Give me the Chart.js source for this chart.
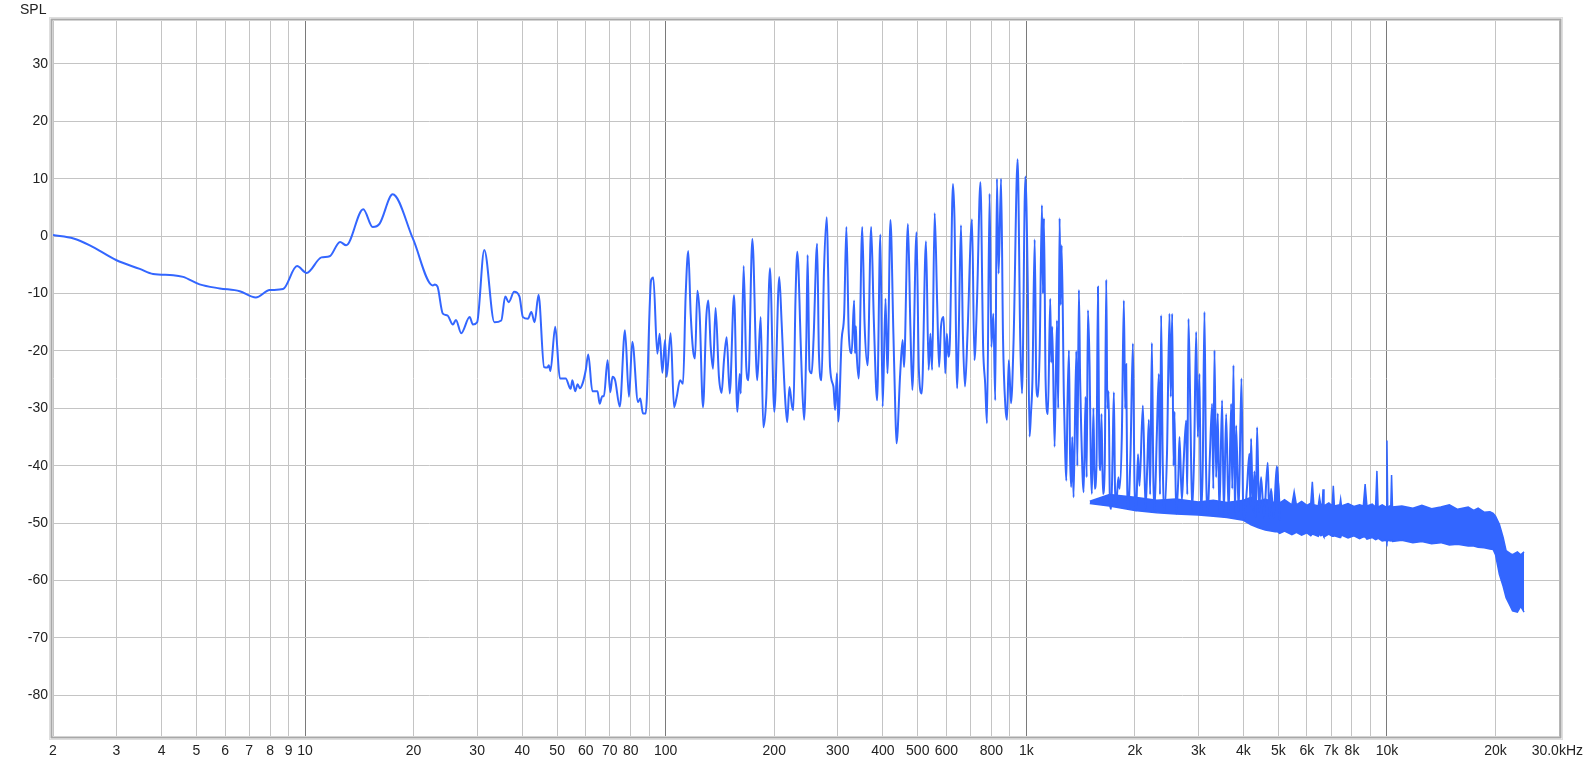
<!DOCTYPE html>
<html>
<head>
<meta charset="utf-8">
<script src="https://cdn.jsdelivr.net/npm/chart.js@4.4.0/dist/chart.umd.min.js"></script>
<style>
  html, body { margin: 0; padding: 0; background: #fff; }
  #wrap { width: 1585px; height: 764px; position: relative; }
</style>
</head>
<body>
<div id="wrap"><canvas id="spl-chart" width="1585" height="764"></canvas></div>
<script>
/* ---- axis ticks ---- */
var X_TICKS  = [2, 3, 4, 5, 6, 7, 8, 9, 10, 20, 30, 40, 50, 60, 70, 80, 90, 100,
                200, 300, 400, 500, 600, 700, 800, 900, 1000,
                2000, 3000, 4000, 5000, 6000, 7000, 8000, 9000, 10000, 20000, 30000];
var X_LABELS = ['2', '3', '4', '5', '6', '7', '8', '9', '10', '20', '30', '40', '50', '60', '70', '80', '', '100',
                '200', '300', '400', '500', '600', '', '800', '', '1k',
                '2k', '3k', '4k', '5k', '6k', '7k', '8k', '', '10k', '20k', '30.0kHz'];
var Y_TICKS  = [-80, -70, -60, -50, -40, -30, -20, -10, 0, 10, 20, 30];

/* ---- measured trace, Hz / dB ---- */
var TRACE_FREQ = [
  2.0, 2.28, 2.53, 3.0, 3.48, 3.79, 4.31, 4.59, 5.1, 5.8, 6.59, 7.3, 7.98, 8.69, 9.5, 10.1,
  11.1, 11.7, 12.5, 13.0, 14.5, 15.4, 16.1, 17.5, 19.9, 22.6, 22.9, 23.3, 24.1, 24.8, 25.7, 26.2,
  27.1, 28.6, 29.2, 30.0, 31.4, 33.5, 35.0, 35.9, 36.7, 38.0, 39.3, 40.2, 41.5, 42.4, 43.3, 44.4,
  46.0, 47.0, 47.4, 47.9, 49.4, 50.9, 52.8, 54.5, 55.1, 56.1, 57.0, 57.8, 58.8, 60.0, 61.0, 62.6,
  64.7, 65.6, 66.7, 67.4, 69.0, 70.2, 71.2, 72.4, 74.6, 77.1, 79.1, 80.8, 83.8, 85.0, 86.5, 88.0,
  91.1, 92.4, 94.8, 96.2, 97.9, 99.6, 100.6, 103.2, 105.5, 107.3, 109.6, 111.7, 113.6, 115.5, 117.3, 119.1,
  120.6, 122.4, 124.2, 126.9, 129.6, 131.3, 133.3, 135.3, 137.5, 140.5, 142.9, 145.1, 147.6, 150.5, 154.7, 158.0,
  160.4, 161.5, 164.5, 167.3, 169.5, 173.9, 179.4, 183.4, 186.5, 190.1, 194.6, 200.1, 206.5, 209.6, 214.0, 217.2,
  220.4, 224.1, 226.0, 229.0, 231.7, 237, 238.5, 242, 245.5, 247.5, 250.5, 254, 257, 263, 266, 270.5,
  274.8, 279.7, 282, 285.6, 291.8, 295, 298.4, 301, 307.5, 312.6, 317, 321.9, 327.8, 333, 335, 336.8,
  338.3, 343, 350.8, 356, 363, 371.3, 377.7, 385.7, 393.8, 399.6, 407, 412, 420, 428, 433, 436.6,
  447, 454, 458, 469.6, 477, 483, 496, 503.6, 513, 527, 536, 542, 548, 557, 566, 573,
  580, 590, 596, 602, 608, 614, 626, 632, 643, 649, 659, 667, 676, 687, 707, 718,
  730, 746, 759, 769, 778, 791, 800, 810, 820, 829, 838, 851, 862, 875, 884, 894,
  907, 922, 946, 962, 973, 994, 1009, 1021, 1030, 1040, 1055, 1066, 1077, 1089, 1105, 1112,
  1119, 1131, 1148, 1165, 1172, 1180, 1198, 1216, 1226, 1237, 1245, 1253, 1271, 1282, 1291, 1300,
  1313, 1322, 1332, 1341, 1352, 1376, 1385, 1399, 1410, 1420, 1442, 1460, 1470, 1482, 1498, 1510,
  1520, 1535, 1547, 1565, 1580, 1592, 1604, 1616, 1631, 1650, 1666, 1678, 1691, 1705, 1720, 1735,
  1749, 1762, 1776, 1800, 1814, 1840, 1864, 1880, 1892, 1905, 1917, 1945, 1975, 1995, 2017, 2040,
  2060, 2105, 2141, 2165, 2187, 2205, 2229, 2250, 2267, 2300, 2331, 2348, 2365, 2390, 2417, 2455,
  2495, 2515, 2538, 2560, 2576, 2603, 2640, 2659, 2700, 2728, 2775, 2795, 2816, 2850, 2883, 2920,
  2958, 2990, 3021, 3050, 3085, 3119, 3150, 3186, 3230, 3276, 3300, 3325, 3360, 3396, 3430, 3491,
  3530, 3582, 3640, 3698, 3725, 3753, 3790, 3818, 3880, 3950, 3990, 4026, 4090, 4156, 4180, 4200,
  4250, 4291, 4330, 4365, 4420, 4477, 4560, 4671, 4720, 4772, 4850, 4948, 5050
];
var TRACE_SPL = [
  0.2, -0.4, -1.6, -4.2, -5.7, -6.6, -6.8, -7.1, -8.4, -9.1, -9.6, -10.7, -9.4, -9.2, -5.2, -6.4,
  -3.7, -3.5, -1.0, -1.6, 4.7, 1.6, 2.2, 7.3, -0.4, -8.6, -8.4, -8.8, -13.5, -13.8, -15.4, -14.6,
  -16.9, -14.1, -15.4, -15.0, -2.4, -15.0, -14.7, -10.5, -11.5, -9.7, -10.5, -14.1, -14.4, -13.2, -15.0, -10.2,
  -22.8, -22.9, -22.5, -23.5, -15.8, -24.8, -24.8, -26.6, -25.1, -27.0, -25.8, -26.5, -25.7, -23.4, -20.6, -27.0,
  -27.0, -29.2, -27.9, -27.9, -21.6, -27.2, -24.5, -25.1, -29.7, -16.4, -28.0, -18.4, -28.9, -28.3, -30.9, -30.9,
  -7.7, -7.2, -20.5, -17.0, -23.8, -18.1, -24.5, -16.9, -29.8, -28.0, -25.1, -25.7, -10.3, -2.6, -13.5, -19.9,
  -21.3, -9.5, -13.5, -29.8, -14.1, -11.2, -19.3, -23.1, -12.5, -24.5, -27.3, -21.6, -17.6, -27.4, -10.3, -30.6,
  -24.0, -27.4, -5.2, -22.8, -25.1, -0.5, -25.1, -14.1, -33.3, -28.0, -5.6, -30.6, -7.1, -14.9, -27.4, -32.4,
  -26.3, -29.7, -30.3, -11.2, -2.7, -19.3, -24.5, -32.0, -18.1, -3.3, -23.3, -23.9, -18.1, -1.3, -20.4, -25.1,
  -5.9, 3.3, -5.5, -22.8, -26.2, -30.3, -23.9, -32.3, -18.1, -13.5, 1.6, -17.0, -20.4, -11.2, -20.4, -15.7,
  -19.9, -24.8, 1.6, -15.2, -22.5, 1.6, -14.6, -28.6, 0.3, -29.7, -10.9, -23.9, 2.8, -17.0, -29.7, -36.1,
  -23.9, -18.1, -22.8, 2.1, -15.8, -26.8, 0.7, -23.3, -27.4, -0.9, -23.3, -17.0, -23.3, 4.0, -11.7, -22.8,
  -15.8, -14.1, -23.9, -17.0, -21.0, -18.1, 9.1, 3.3, -26.5, -18.1, 1.9, -17.0, -26.2, -17.0, 2.9, -21.6,
  -11.2, 9.4, -19.3, -25.7, -32.6, 7.4, -19.3, -13.5, -28.6, 10.0, -6.5, 10.0, -18.1, -29.7, -32.0, -21.6,
  -29.1, -18.1, 13.4, -18.1, -27.4, 10.4, -7.7, -34.9, -30.9, -25.0, -0.6, -26.0, -28.0, -20.0, 5.4, -10.0,
  3.1, -25.0, -31.0, -10.9, -22.0, -15.8, -36.7, -14.7, -30.0, 3.1, -12.0, -1.6, -28.0, -38.0, -42.6, -30.0,
  -19.9, -38.0, -43.7, -35.0, -45.5, -20.0, -40.0, -9.4, -25.0, -33.8, -44.6, -28.0, -42.0, -12.9, -22.8, -40.0,
  -44.9, -30.0, -44.0, -40.0, -8.8, -35.0, -40.8, -31.0, -44.9, -40.0, -7.6, -30.0, -27.0, -46.0, -47.5, -38.0,
  -27.2, -44.0, -46.6, -42.0, -44.0, -35.0, -11.2, -30.0, -22.3, -44.0, -47.5, -38.0, -18.7, -43.0, -47.8, -38.0,
  -43.5, -29.5, -47.5, -40.0, -32.0, -45.0, -18.6, -42.0, -47.8, -35.0, -24.0, -45.0, -13.8, -40.0, -47.8, -38.0,
  -13.5, -28.0, -13.5, -40.0, -30.6, -48.4, -42.0, -35.0, -46.0, -40.0, -32.1, -45.0, -14.4, -30.3, -47.8, -38.0,
  -16.7, -35.0, -24.0, -48.4, -40.0, -13.2, -40.0, -48.4, -38.0, -29.2, -44.0, -19.9, -42.0, -30.9, -48.4, -28.6,
  -48.4, -31.0, -48.4, -29.2, -44.0, -22.5, -49.0, -33.0, -48.0, -24.8, -46.0, -49.2, -44.0, -37.9, -47.0, -35.3,
  -48.0, -41.0, -49.0, -33.3, -48.0, -42.0, -49.0, -39.5, -49.0, -44.0, -49.0, -40.1, -49.5
];

/* ---- noise floor band above ~1.5 kHz: upper / lower edge ---- */
var BAND_FREQ = [
  1500, 1700, 2000, 2300, 2600, 3000, 3300, 3600, 4000, 4200, 4400, 4600, 4900, 4970, 5040, 5200,
  5450, 5530, 5610, 5800, 6000, 6150, 6210, 6270, 6450, 6500, 6560, 6620, 6650, 6690, 6900, 7050,
  7100, 7150, 7400, 7440, 7480, 7800, 8100, 8400, 8600, 8700, 8800, 9100, 9300, 9380, 9450, 9700,
  9950, 10000, 10050, 10250, 10300, 10360, 11000, 11800, 12500, 13300, 14100, 14900, 15700, 16800, 17400, 17900,
  18600, 19300, 19700, 20000, 20500, 21000, 21400, 22000, 22300, 23000, 23500, 24000
];
var BAND_TOP = [
  -46.2, -45, -45.5, -46, -45.8, -46.3, -46, -46.4, -46, -45.5, -46.2, -45.8, -46.5, -40.2, -46.5, -45.9,
  -46.8, -44.5, -46.8, -46.2, -46.9, -46.5, -42.8, -46.8, -47, -45.5, -47, -46.6, -44.1, -47, -46.5, -47,
  -43.5, -47, -46.8, -45.8, -47, -46.6, -47.1, -46.8, -47, -43.2, -47, -46.7, -47.2, -40.9, -47.2, -46.8,
  -47.2, -35.6, -47.2, -46.9, -41.6, -47.2, -47, -47.4, -46.9, -47.5, -47.2, -46.8, -47.6, -47.2, -47.8, -47.4,
  -48.1, -48, -48.3, -48.8, -50.2, -52.5, -54.8, -55.3, -55.5, -55, -55.5, -55
];
var BAND_BOTTOM = [
  -46.6, -47, -47.8, -48.2, -48.4, -48.6, -48.8, -49, -49.5, -50.3, -50.8, -51.2, -51.5, -51.5, -51.8, -51.4,
  -52, -51.8, -51.6, -52.1, -51.7, -52.2, -51.9, -52, -52.3, -51.9, -52.2, -52, -52.1, -52.4, -51.9, -52.3,
  -52.3, -52.2, -52.5, -52.5, -52.1, -52.6, -52.2, -52.7, -52.4, -52.4, -52.8, -52.5, -52.9, -52.8, -52.6, -53.1,
  -53, -53.4, -53, -53.1, -53, -53.2, -53, -53.4, -53.2, -53.6, -53.4, -53.8, -53.7, -54, -54, -54.2,
  -54.3, -54.5, -54.6, -55.5, -58.9, -61, -63, -64.5, -65.3, -65.5, -64.5, -65.5
];

var LINE_BLUE = '#3366ff';
var FONT_FAMILY = '"Liberation Sans", Arial, sans-serif';

function pts(xs, ys) {
    return xs.map(function(x, i) { return { x: x, y: ys[i] }; });
}

// frame, "SPL" caption and the end-of-axis unit label
var framePlugin = {
    id: 'frame',
    afterDraw: function(chart) {
        var a = chart.chartArea, ctx = chart.ctx;
        ctx.save();
        ctx.strokeStyle = '#dedede';
        ctx.lineWidth = 1;
        ctx.strokeRect(a.left - 3.5, a.top - 3.5, a.right - a.left + 7, a.bottom - a.top + 7);
        ctx.strokeStyle = '#a8a8a8';
        ctx.lineWidth = 2;
        ctx.strokeRect(a.left - 1.5, a.top - 1.5, a.right - a.left + 3, a.bottom - a.top + 3);

        ctx.fillStyle = '#222';
        ctx.font = '14px ' + FONT_FAMILY;
        ctx.textBaseline = 'alphabetic';
        ctx.textAlign = 'left';
        ctx.fillText('SPL', 20, 14);

        ctx.textAlign = 'right';
        ctx.textBaseline = 'middle';
        ctx.fillText(X_LABELS[X_LABELS.length - 1], 1583, 751);
        ctx.restore();
    }
};

new Chart(document.getElementById('spl-chart'), {
    type: 'line',
    data: {
        datasets: [
            {
                label: 'SPL',
                data: pts(TRACE_FREQ, TRACE_SPL),
                borderColor: LINE_BLUE, borderWidth: 2,
                pointRadius: 0, cubicInterpolationMode: 'monotone', fill: false
            },
            {
                label: 'floor-low',
                data: pts(BAND_FREQ, BAND_BOTTOM),
                borderColor: LINE_BLUE, borderWidth: 1.5,
                pointRadius: 0, tension: 0, fill: false
            },
            {
                label: 'floor-high',
                data: pts(BAND_FREQ, BAND_TOP),
                borderColor: LINE_BLUE, borderWidth: 1.5, backgroundColor: LINE_BLUE,
                pointRadius: 0, tension: 0, fill: '-1'
            }
        ]
    },
    options: {
        responsive: false,
        animation: false,
        devicePixelRatio: 1,
        layout: { padding: { top: 21, right: 26, left: 0, bottom: 0 } },
        plugins: { legend: { display: false }, tooltip: { enabled: false } },
        scales: {
            x: {
                type: 'logarithmic',
                min: 2, max: 30000,
                afterFit: function(s) { s.height = 28; },
                afterBuildTicks: function(s) { s.ticks = X_TICKS.map(function(v) { return { value: v }; }); },
                grid: {
                    drawTicks: false,
                    lineWidth: 1,
                    color: function(c) {
                        var v = c.tick ? c.tick.value : 0;
                        return (v === 10 || v === 100 || v === 1000 || v === 10000) ? '#7a7a7a' : '#c4c4c4';
                    }
                },
                border: { display: false },
                ticks: {
                    autoSkip: false, maxRotation: 0, minRotation: 0,
                    padding: 7, color: '#222',
                    font: { family: FONT_FAMILY, size: 14 },
                    // last label is drawn by the frame plugin, right-aligned to the canvas edge
                    callback: function(v, i) { return i === X_LABELS.length - 1 ? '' : X_LABELS[i]; }
                }
            },
            y: {
                min: -87.09, max: 37.49,
                afterFit: function(s) { s.width = 53; },
                afterBuildTicks: function(s) { s.ticks = Y_TICKS.map(function(v) { return { value: v }; }); },
                grid: { drawTicks: false, color: '#c4c4c4', lineWidth: 1 },
                border: { display: false },
                ticks: {
                    padding: 5, color: '#222',
                    font: { family: FONT_FAMILY, size: 14 }
                }
            }
        }
    },
    plugins: [framePlugin]
});
</script>
</body>
</html>
